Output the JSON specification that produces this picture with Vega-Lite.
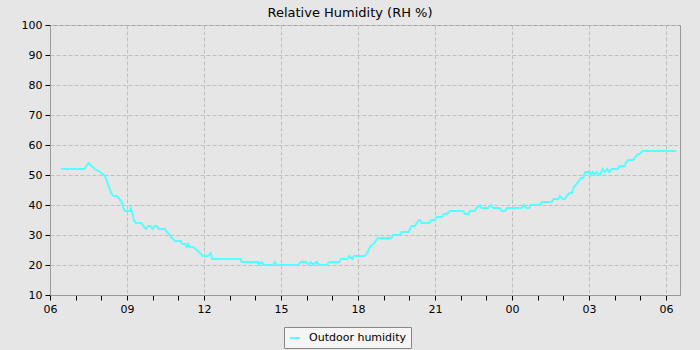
{
  "$schema": "https://vega.github.io/schema/vega-lite/v6.json",
  "width": 630,
  "height": 270,
  "autosize": {"type": "none"},
  "padding": {"left": 50, "top": 25, "right": 20, "bottom": 55},
  "background": "#e6e6e6",
  "title": {"text": "Relative Humidity (RH %)", "fontSize": 13, "fontWeight": "normal", "font": "DejaVu Sans", "color": "#000000", "anchor": "middle", "dx": -15, "offset": -1},
  "data": {"values": [
    {"time": "2024-06-01T06:26", "rh": 52},
    {"time": "2024-06-01T07:20", "rh": 52},
    {"time": "2024-06-01T07:30", "rh": 54},
    {"time": "2024-06-01T07:37", "rh": 53},
    {"time": "2024-06-01T07:45", "rh": 52},
    {"time": "2024-06-01T07:57", "rh": 51},
    {"time": "2024-06-01T08:06", "rh": 50},
    {"time": "2024-06-01T08:11", "rh": 49},
    {"time": "2024-06-01T08:15", "rh": 47},
    {"time": "2024-06-01T08:18", "rh": 46},
    {"time": "2024-06-01T08:23", "rh": 44},
    {"time": "2024-06-01T08:28", "rh": 43},
    {"time": "2024-06-01T08:36", "rh": 43},
    {"time": "2024-06-01T08:42", "rh": 42},
    {"time": "2024-06-01T08:48", "rh": 41},
    {"time": "2024-06-01T08:51", "rh": 39},
    {"time": "2024-06-01T08:55", "rh": 38},
    {"time": "2024-06-01T09:07", "rh": 38},
    {"time": "2024-06-01T09:09", "rh": 39},
    {"time": "2024-06-01T09:13", "rh": 37},
    {"time": "2024-06-01T09:16", "rh": 35},
    {"time": "2024-06-01T09:20", "rh": 34},
    {"time": "2024-06-01T09:34", "rh": 34},
    {"time": "2024-06-01T09:38", "rh": 33},
    {"time": "2024-06-01T09:44", "rh": 32},
    {"time": "2024-06-01T09:50", "rh": 33},
    {"time": "2024-06-01T09:55", "rh": 33},
    {"time": "2024-06-01T10:00", "rh": 32},
    {"time": "2024-06-01T10:05", "rh": 33},
    {"time": "2024-06-01T10:09", "rh": 33},
    {"time": "2024-06-01T10:15", "rh": 32},
    {"time": "2024-06-01T10:29", "rh": 32},
    {"time": "2024-06-01T10:33", "rh": 31},
    {"time": "2024-06-01T10:40", "rh": 30},
    {"time": "2024-06-01T10:45", "rh": 29},
    {"time": "2024-06-01T10:52", "rh": 28},
    {"time": "2024-06-01T11:05", "rh": 28},
    {"time": "2024-06-01T11:10", "rh": 27},
    {"time": "2024-06-01T11:16", "rh": 27},
    {"time": "2024-06-01T11:20", "rh": 26},
    {"time": "2024-06-01T11:23", "rh": 27},
    {"time": "2024-06-01T11:27", "rh": 26},
    {"time": "2024-06-01T11:35", "rh": 26},
    {"time": "2024-06-01T11:43", "rh": 25},
    {"time": "2024-06-01T11:51", "rh": 24},
    {"time": "2024-06-01T11:57", "rh": 23},
    {"time": "2024-06-01T12:09", "rh": 23},
    {"time": "2024-06-01T12:16", "rh": 24},
    {"time": "2024-06-01T12:19", "rh": 22},
    {"time": "2024-06-01T13:26", "rh": 22},
    {"time": "2024-06-01T13:28", "rh": 21},
    {"time": "2024-06-01T14:06", "rh": 21},
    {"time": "2024-06-01T14:09", "rh": 20},
    {"time": "2024-06-01T14:15", "rh": 21},
    {"time": "2024-06-01T14:20", "rh": 20},
    {"time": "2024-06-01T14:41", "rh": 20},
    {"time": "2024-06-01T14:46", "rh": 21},
    {"time": "2024-06-01T14:50", "rh": 20},
    {"time": "2024-06-01T15:40", "rh": 20},
    {"time": "2024-06-01T15:46", "rh": 21},
    {"time": "2024-06-01T16:00", "rh": 21},
    {"time": "2024-06-01T16:04", "rh": 20},
    {"time": "2024-06-01T16:09", "rh": 21},
    {"time": "2024-06-01T16:16", "rh": 20},
    {"time": "2024-06-01T16:23", "rh": 21},
    {"time": "2024-06-01T16:30", "rh": 20},
    {"time": "2024-06-01T16:47", "rh": 20},
    {"time": "2024-06-01T16:53", "rh": 21},
    {"time": "2024-06-01T17:16", "rh": 21},
    {"time": "2024-06-01T17:20", "rh": 22},
    {"time": "2024-06-01T17:35", "rh": 22},
    {"time": "2024-06-01T17:40", "rh": 23},
    {"time": "2024-06-01T17:47", "rh": 22},
    {"time": "2024-06-01T17:51", "rh": 23},
    {"time": "2024-06-01T18:16", "rh": 23},
    {"time": "2024-06-01T18:22", "rh": 24},
    {"time": "2024-06-01T18:28", "rh": 26},
    {"time": "2024-06-01T18:36", "rh": 27},
    {"time": "2024-06-01T18:42", "rh": 28},
    {"time": "2024-06-01T18:46", "rh": 29},
    {"time": "2024-06-01T19:18", "rh": 29},
    {"time": "2024-06-01T19:22", "rh": 30},
    {"time": "2024-06-01T19:38", "rh": 30},
    {"time": "2024-06-01T19:42", "rh": 31},
    {"time": "2024-06-01T19:58", "rh": 31},
    {"time": "2024-06-01T20:05", "rh": 33},
    {"time": "2024-06-01T20:13", "rh": 33},
    {"time": "2024-06-01T20:22", "rh": 35},
    {"time": "2024-06-01T20:25", "rh": 35},
    {"time": "2024-06-01T20:29", "rh": 34},
    {"time": "2024-06-01T20:46", "rh": 34},
    {"time": "2024-06-01T20:52", "rh": 35},
    {"time": "2024-06-01T21:00", "rh": 35},
    {"time": "2024-06-01T21:04", "rh": 36},
    {"time": "2024-06-01T21:16", "rh": 36},
    {"time": "2024-06-01T21:21", "rh": 37},
    {"time": "2024-06-01T21:27", "rh": 37},
    {"time": "2024-06-01T21:35", "rh": 38},
    {"time": "2024-06-01T22:06", "rh": 38},
    {"time": "2024-06-01T22:10", "rh": 37},
    {"time": "2024-06-01T22:18", "rh": 37},
    {"time": "2024-06-01T22:22", "rh": 38},
    {"time": "2024-06-01T22:33", "rh": 38},
    {"time": "2024-06-01T22:37", "rh": 39},
    {"time": "2024-06-01T22:45", "rh": 40},
    {"time": "2024-06-01T22:49", "rh": 39},
    {"time": "2024-06-01T23:05", "rh": 39},
    {"time": "2024-06-01T23:11", "rh": 40},
    {"time": "2024-06-01T23:16", "rh": 39},
    {"time": "2024-06-01T23:32", "rh": 39},
    {"time": "2024-06-01T23:36", "rh": 38},
    {"time": "2024-06-01T23:44", "rh": 38},
    {"time": "2024-06-01T23:48", "rh": 39},
    {"time": "2024-06-02T00:23", "rh": 39},
    {"time": "2024-06-02T00:28", "rh": 40},
    {"time": "2024-06-02T00:33", "rh": 39},
    {"time": "2024-06-02T00:40", "rh": 39},
    {"time": "2024-06-02T00:44", "rh": 40},
    {"time": "2024-06-02T01:06", "rh": 40},
    {"time": "2024-06-02T01:10", "rh": 41},
    {"time": "2024-06-02T01:33", "rh": 41},
    {"time": "2024-06-02T01:37", "rh": 42},
    {"time": "2024-06-02T01:48", "rh": 42},
    {"time": "2024-06-02T01:52", "rh": 43},
    {"time": "2024-06-02T01:59", "rh": 42},
    {"time": "2024-06-02T02:04", "rh": 42},
    {"time": "2024-06-02T02:08", "rh": 43},
    {"time": "2024-06-02T02:14", "rh": 44},
    {"time": "2024-06-02T02:20", "rh": 44},
    {"time": "2024-06-02T02:25", "rh": 46},
    {"time": "2024-06-02T02:31", "rh": 47},
    {"time": "2024-06-02T02:37", "rh": 48},
    {"time": "2024-06-02T02:41", "rh": 49},
    {"time": "2024-06-02T02:47", "rh": 49},
    {"time": "2024-06-02T02:51", "rh": 51},
    {"time": "2024-06-02T03:02", "rh": 51},
    {"time": "2024-06-02T03:04", "rh": 50},
    {"time": "2024-06-02T03:09", "rh": 51},
    {"time": "2024-06-02T03:14", "rh": 50},
    {"time": "2024-06-02T03:18", "rh": 51},
    {"time": "2024-06-02T03:26", "rh": 50},
    {"time": "2024-06-02T03:32", "rh": 52},
    {"time": "2024-06-02T03:37", "rh": 51},
    {"time": "2024-06-02T03:43", "rh": 52},
    {"time": "2024-06-02T03:47", "rh": 51},
    {"time": "2024-06-02T03:53", "rh": 52},
    {"time": "2024-06-02T04:08", "rh": 52},
    {"time": "2024-06-02T04:11", "rh": 53},
    {"time": "2024-06-02T04:24", "rh": 53},
    {"time": "2024-06-02T04:26", "rh": 54},
    {"time": "2024-06-02T04:32", "rh": 55},
    {"time": "2024-06-02T04:44", "rh": 55},
    {"time": "2024-06-02T04:48", "rh": 56},
    {"time": "2024-06-02T04:55", "rh": 57},
    {"time": "2024-06-02T04:59", "rh": 57},
    {"time": "2024-06-02T05:06", "rh": 58},
    {"time": "2024-06-02T06:25", "rh": 58}
  ]},
  "mark": {"type": "line", "strokeWidth": 2},
  "encoding": {
    "x": {
      "field": "time",
      "type": "temporal",
      "scale": {"domain": [{"year": 2024, "month": 6, "date": 1, "hours": 6, "minutes": 0}, {"year": 2024, "month": 6, "date": 2, "hours": 6, "minutes": 33}]},
      "axis": {
        "title": null,
        "labelExpr": "hours(datum.value) % 3 === 0 ? timeFormat(datum.value, '%H') : ''",
        "gridOpacity": {"condition": {"test": "hours(datum.value) % 3 === 0", "value": 1}, "value": 0},
        "labelOverlap": false,
        "labelFlush": false
      }
    },
    "y": {
      "field": "rh",
      "type": "quantitative",
      "scale": {"domain": [10, 100], "nice": false, "zero": false},
      "axis": {"title": null, "values": [10, 20, 30, 40, 50, 60, 70, 80, 90, 100]}
    },
    "color": {
      "datum": "Outdoor humidity",
      "type": "nominal",
      "scale": {"range": ["#55ffff"]},
      "legend": {
        "title": null,
        "orient": "none",
        "legendX": 234,
        "legendY": 302,
        "fillColor": "#f5f5f5",
        "strokeColor": "#888888",
        "padding": 5,
        "symbolType": "stroke",
        "symbolStrokeWidth": 2,
        "symbolSize": 100,
        "labelFontSize": 11,
        "labelColor": "#000000",
        "labelOffset": 8
      }
    }
  },
  "config": {
    "font": "DejaVu Sans",
    "view": {"stroke": "#999999", "fill": "#e6e6e6"},
    "axis": {
      "domainColor": "#999999",
      "tickColor": "#000000",
      "tickSize": 5,
      "labelFontSize": 11,
      "labelColor": "#000000",
      "labelPadding": 3,
      "gridColor": "#c0c0c0",
      "gridDash": [4, 2]
    }
  }
}
